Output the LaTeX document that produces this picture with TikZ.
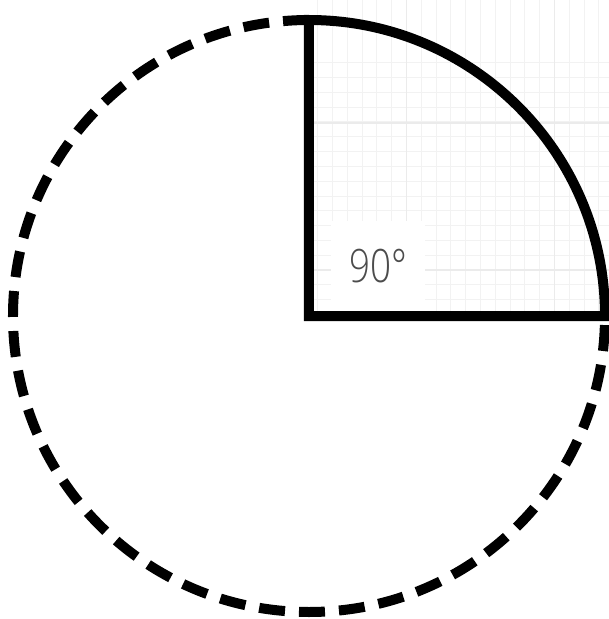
\documentclass[tikz,border=0pt]{standalone}
\usepackage{fontspec}
\newfontfamily\lightsans{Open Sans Light}
\begin{document}
\begin{tikzpicture}[x=1pt, y=1pt,
    gridminor/.style={draw=black!5, line width=1pt},
    gridmajor/.style={draw=black!8, line width=1.2pt},
    solidline/.style={line width=10pt, line join=miter},
    dashline/.style={line width=10pt, dash pattern=on 26pt off 14pt}]
    \useasboundingbox (-309,-303) rectangle (300,316);

    % Define Coordinates
    \coordinate (O) at (0,0);
    \coordinate (N) at (0,296);
    \coordinate (E) at (296,0);

    % Draw faint grid in the quarter
    \begin{scope}
        \clip (O) rectangle (300,316);
        \foreach \k in {-7,...,14} {
            \draw[gridminor] (97.5+14.8*\k, 0) -- ++(0,316);
            \draw[gridminor] (0, 46+14.8*\k) -- ++(300,0);
        }
        \foreach \k in {0,1} {
            \draw[gridmajor] (97.5+148*\k, 0) -- ++(0,316);
            \draw[gridmajor] (0, 46+147*\k) -- ++(300,0);
        }
    \end{scope}

    % Angle label on a white patch
    \node[fill=white, minimum width=94pt, minimum height=90pt, text=black!70,
          font=\lightsans\fontsize{46}{50}\selectfont] (ang) at (69,50)
          {\scalebox{0.8}[1]{90°}};

    % Dashed remainder of the circle
    \draw[dashline] (N) arc[start angle=90, end angle=360, radius=296];

    % Solid quarter sector
    \draw[solidline] (E) arc[start angle=0, end angle=90, radius=296] -- (O) -- cycle;
\end{tikzpicture}
\end{document}
